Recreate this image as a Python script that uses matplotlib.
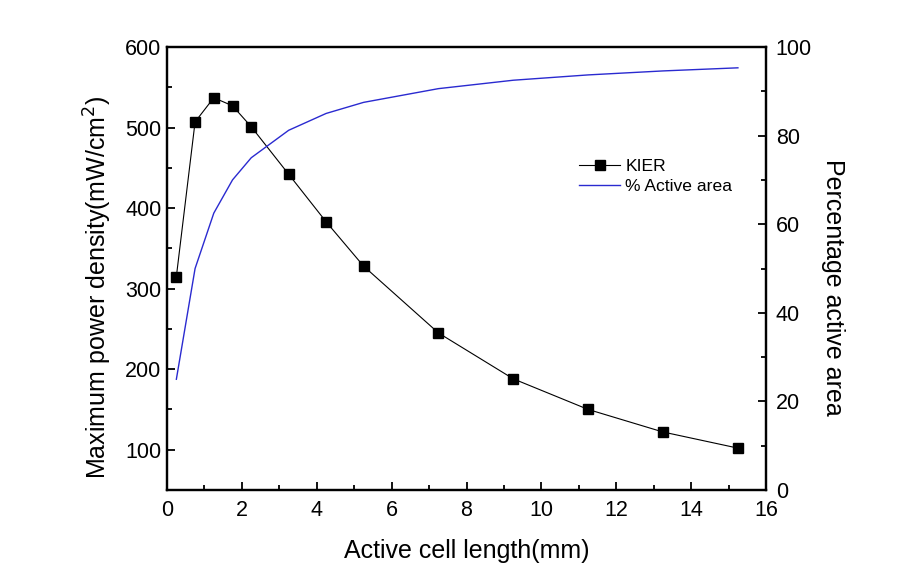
import matplotlib
matplotlib.use('Agg')
import matplotlib.pyplot as plt
from matplotlib.ticker import MultipleLocator

plt.rcParams['font.family'] = ['Liberation Sans', 'DejaVu Sans']

length = [0.25, 0.75, 1.25, 1.75, 2.25, 3.25, 4.25, 5.25, 7.25, 9.25, 11.25, 13.25, 15.25]
kier = [315, 507, 537, 527, 501, 442, 383, 328, 245, 188, 150, 122, 102]
active = [25, 50, 62.5, 70, 75, 81.2, 85, 87.5, 90.6, 92.5, 93.7, 94.6, 95.3]

fig = plt.figure(figsize=(9.17, 5.83), dpi=100)
ax = fig.add_axes([167/917, 1 - 490/583, (766-167)/917, (490-47)/583])
ax2 = ax.twinx()

l1, = ax.plot(length, kier, '-', color='black', lw=0.8, marker='s', ms=7,
              markerfacecolor='black', label='KIER')
l2, = ax2.plot(length, active, '-', color='#2a2ad0', lw=1.0, label='% Active area')

ax.set_xlim(0, 16)
ax.set_ylim(50, 600)
ax2.set_ylim(0, 100)

ax.xaxis.set_major_locator(MultipleLocator(2))
ax.xaxis.set_minor_locator(MultipleLocator(1))
ax.yaxis.set_major_locator(MultipleLocator(100))
ax.yaxis.set_minor_locator(MultipleLocator(50))
ax2.yaxis.set_major_locator(MultipleLocator(20))
ax2.yaxis.set_minor_locator(MultipleLocator(10))

for a in (ax, ax2):
    a.tick_params(which='major', direction='in', length=6, width=1.3, labelsize=15.5)
    a.tick_params(which='minor', direction='in', length=3.5, width=1.3)
    for s in a.spines.values():
        s.set_linewidth(1.6)
ax.tick_params(top=False, right=False, which='both')
ax.tick_params(axis='x', pad=7)
ax.tick_params(axis='y', pad=4)
ax2.tick_params(top=False, which='both')
ax2.tick_params(axis='y', pad=7)

ax.set_xlabel('Active cell length(mm)', fontsize=18, labelpad=13)
ax.set_ylabel('Maximum power density(mW/cm$^2$)', fontsize=18, labelpad=8)
ax2.set_ylabel('Percentage active area', fontsize=18, rotation=270, labelpad=24)
ax.yaxis.label.set_y(0.458)
ax2.yaxis.label.set_y(0.458)

ax.legend([l1, l2], ['KIER', '% Active area'], loc='upper left',
          bbox_to_anchor=(579/917, 1 - 159/583), bbox_transform=fig.transFigure,
          frameon=False, fontsize=12.6, borderpad=0, borderaxespad=0,
          handlelength=2.35, handletextpad=0.3, labelspacing=0.25)

fig.savefig('out.png', dpi=100)
